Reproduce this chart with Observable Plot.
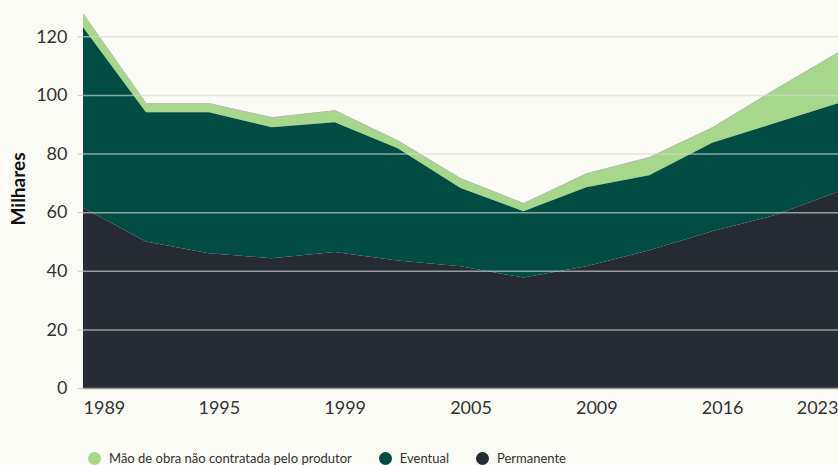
<!DOCTYPE html>
<html>
<head>
<meta charset="utf-8">
<script src="https://cdn.jsdelivr.net/npm/d3@7"></script>
<script src="https://cdn.jsdelivr.net/npm/@observablehq/plot@0.6"></script>
<style>
  html, body { margin: 0; padding: 0; background: #fbfbf5; }
  #chart svg { display: block; }
  #legend { display: flex; align-items: center; height: 22px; margin-top: 17px; padding-left: 88px; font-family: Lato, sans-serif; font-size: 13px; color: #333; }
  #legend .item { display: flex; align-items: center; margin-right: 27px; }
  #legend .dot { width: 13px; height: 13px; border-radius: 50%; margin-right: 8px; }
</style>
</head>
<body>
<div id="chart"></div>
<div id="legend"></div>
<script>
const years = [1989, 1993, 1995, 1997, 1999, 2003, 2005, 2007, 2009, 2013, 2016, 2019, 2023];
const tickYears = [1989, 1995, 1999, 2005, 2009, 2016, 2023];
const series = ["Mão de obra não contratada pelo produtor", "Eventual", "Permanente"];
const colors = ["#a6d78a", "#014c43", "#262a32"];
const permanente = [61.5, 50.0, 46.0, 44.3, 46.4, 43.5, 41.5, 37.7, 41.5, 47.0, 53.5, 59.0, 67.0];
const eventual = [61.6, 44.1, 48.1, 44.7, 44.3, 38.3, 26.7, 22.6, 27.0, 25.6, 30.2, 31.4, 30.2];
const naoContratada = [4.6, 3.1, 3.1, 3.4, 4.1, 2.7, 3.4, 2.8, 4.8, 6.2, 5.3, 11.6, 17.4];
const yTicks = [0, 20, 40, 60, 80, 100, 120];

const valuesBySerie = {
  [series[0]]: naoContratada,
  [series[1]]: eventual,
  [series[2]]: permanente
};
const data = years.flatMap((yr, i) => series.map(s => ({year: yr, serie: s, value: valuesBySerie[s][i]})));
const stackOrder = [series[2], series[1], series[0]];
const fmt = d => String(d);

const chart = Plot.plot({
  width: 838,
  height: 430,
  marginLeft: 83,
  marginRight: 0,
  marginTop: 7,
  marginBottom: 42,
  style: {background: "transparent", fontFamily: "Lato, sans-serif", fontSize: "18px", color: "#333"},
  x: {type: "point", domain: years, padding: 0, round: false, axis: null, label: null},
  y: {domain: [0, 130], axis: null, label: null},
  color: {domain: series, range: colors},
  marks: [
    Plot.areaY(data, {x: "year", y: "value", fill: "serie", order: stackOrder, curve: "linear"}),
    Plot.lineY(years, {x: d => d, y: (d, i) => permanente[i] + eventual[i] + naoContratada[i], stroke: "#b8bcb3", strokeWidth: 1}),
    Plot.ruleY(yTicks.filter(t => t > 0), {stroke: "#d4dad6", strokeOpacity: 0.65, strokeWidth: 1.5}),
    Plot.ruleY([0], {stroke: "#9a9d9f", strokeWidth: 1.5}),
    Plot.axisY(yTicks, {tickSize: 5, tickPadding: 11, stroke: "#c8c8c2", fill: "#333", fontSize: 18, tickFormat: fmt, label: null}),
    Plot.axisX([tickYears[0]], {tickSize: 0, tickPadding: 13, textAnchor: "start", fill: "#333", fontSize: 18, tickFormat: fmt, label: null}),
    Plot.axisX(tickYears.slice(1, -1), {tickSize: 0, tickPadding: 13, dx: 10, fill: "#333", fontSize: 18, tickFormat: fmt, label: null}),
    Plot.axisX([tickYears[tickYears.length - 1]], {tickSize: 0, tickPadding: 13, textAnchor: "end", fill: "#333", fontSize: 18, tickFormat: fmt, label: null}),
    Plot.text(["Milhares"], {frameAnchor: "left", textAnchor: "middle", rotate: -90, dx: -65, dy: -9, fontWeight: "bold", fontSize: 19, fill: "#111"})
  ]
});
document.getElementById("chart").append(chart);

const legend = document.getElementById("legend");
series.forEach((s, i) => {
  const item = document.createElement("div");
  item.className = "item";
  const dot = document.createElement("span");
  dot.className = "dot";
  dot.style.background = colors[i];
  const label = document.createElement("span");
  label.textContent = s;
  item.append(dot, label);
  legend.append(item);
});
</script>
</body>
</html>
